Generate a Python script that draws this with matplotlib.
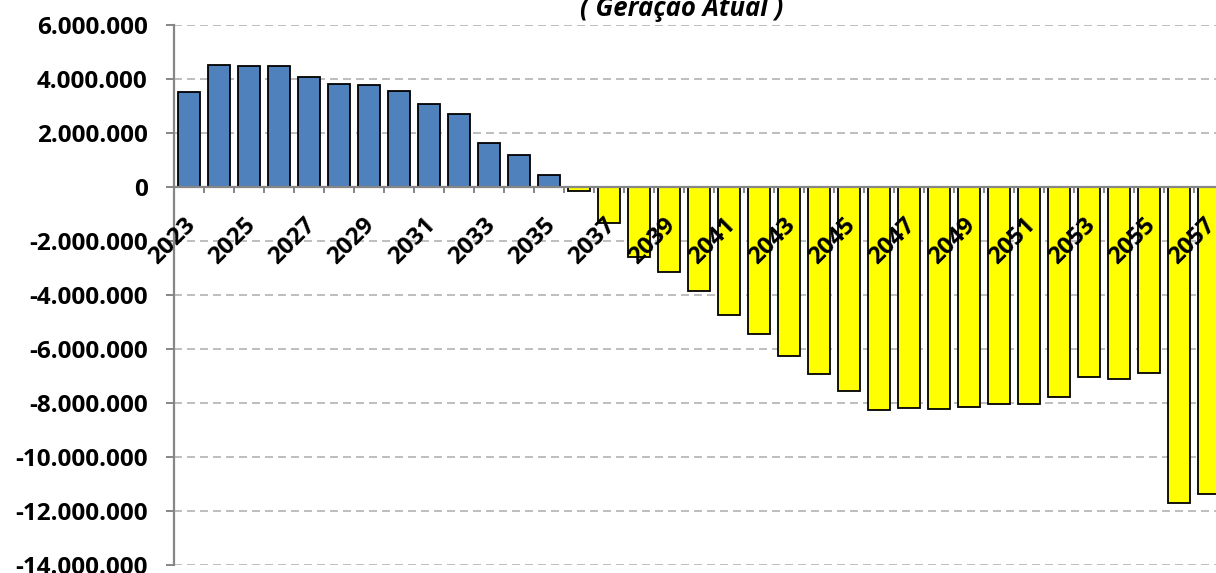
import matplotlib
matplotlib.use('Agg')
import matplotlib.pyplot as plt
import matplotlib.transforms as mtransforms
from matplotlib.ticker import FuncFormatter, FixedLocator

# ---- data ----
years = list(range(2023, 2058))
values = [3500000, 4520000, 4480000, 4480000, 4070000, 3810000, 3750000, 3550000,
          3080000, 2710000, 1630000, 1180000, 430000,
          -150000, -1340000, -2600000, -3140000, -3870000, -4730000, -5460000,
          -6270000, -6930000, -7570000, -8280000, -8200000, -8230000, -8150000,
          -8040000, -8030000, -7790000, -7030000, -7130000, -6880000, -11720000,
          -11380000]
title_text = "( Geração Atual )"
y_ticks = list(range(-14000000, 6000001, 2000000))

FONT = ['Open Sans', 'DejaVu Sans']
plt.rcParams['font.family'] = FONT

W, H, DPI = 1216, 573, 100
fig = plt.figure(figsize=(W / DPI, H / DPI), dpi=DPI)
left_px, top_px, bottom_px = 174, 24.7, 565
ax = fig.add_axes([left_px / W, (H - bottom_px) / H, 1 - left_px / W, (bottom_px - top_px) / H])

pos = list(range(len(years)))
colors = ['#4F81BD' if v >= 0 else '#FFFF00' for v in values]
ax.bar(pos, values, width=0.75, color=colors, edgecolor='black', linewidth=1.3, zorder=3)

ax.set_xlim(-0.5, -0.5 + (W - left_px) / 30.0)
ax.set_ylim(-14000000, 6000000)

gray = '#868686'
ax.spines['top'].set_visible(False)
ax.spines['right'].set_visible(False)
ax.spines['bottom'].set_position(('data', 0))
for s in ('bottom', 'left'):
    ax.spines[s].set_color(gray)
    ax.spines[s].set_linewidth(1.6)
    ax.spines[s].set_zorder(4)

ax.yaxis.set_major_locator(FixedLocator(y_ticks))
ax.yaxis.set_major_formatter(FuncFormatter(lambda v, p: f"{int(v):,}".replace(',', '.')))
ax.tick_params(axis='y', direction='out', length=6, width=1.4, color=gray, pad=13,
               labelsize=17.5)
for lab in ax.get_yticklabels():
    lab.set_fontweight('bold')

ax.xaxis.set_major_locator(FixedLocator([p - 0.5 for p in pos] + [len(pos) - 0.5]))
ax.tick_params(axis='x', direction='out', length=4.3, width=1.4, color=gray, labelbottom=False)

ax.set_axisbelow(True)
ax.yaxis.grid(True, color='#BFBFBF', linewidth=1.44, linestyle=(0, (4, 2.5)), zorder=0)
ax.xaxis.grid(False)

offset = mtransforms.ScaledTranslation(-0.06, -0.265, fig.dpi_scale_trans)
for i, yr in enumerate(years):
    if i % 2 == 0:
        ax.text(i, 0, str(yr), transform=ax.transData + offset, rotation=45,
                rotation_mode='anchor', ha='right', va='top', fontsize=17.5,
                fontweight='bold', zorder=6, clip_on=False)

fig.text(682 / W, 1 - 16 / H, title_text, ha='center', va='baseline', fontsize=18.5,
         fontweight='bold', fontstyle='italic')

fig.savefig('out.png', dpi=DPI)
